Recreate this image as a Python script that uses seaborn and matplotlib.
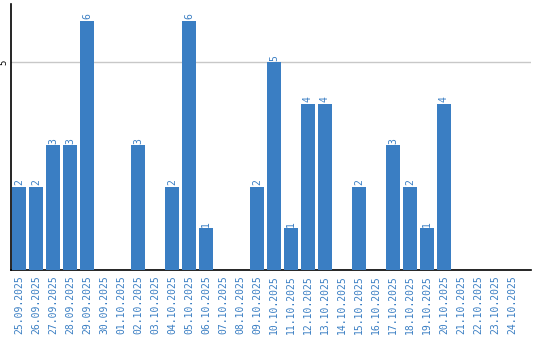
import matplotlib
matplotlib.use("Agg")
import matplotlib.pyplot as plt
import seaborn as sns
import pandas as pd

dates = ["25.09.2025", "26.09.2025", "27.09.2025", "28.09.2025", "29.09.2025",
         "30.09.2025", "01.10.2025", "02.10.2025", "03.10.2025", "04.10.2025",
         "05.10.2025", "06.10.2025", "07.10.2025", "08.10.2025", "09.10.2025",
         "10.10.2025", "11.10.2025", "12.10.2025", "13.10.2025", "14.10.2025",
         "15.10.2025", "16.10.2025", "17.10.2025", "18.10.2025", "19.10.2025",
         "20.10.2025", "21.10.2025", "22.10.2025", "23.10.2025", "24.10.2025"]
counts = [2, 2, 3, 3, 6, 0, 0, 3, 0, 2, 6, 1, 0, 0, 2, 5, 1, 4, 4, 0,
          2, 0, 3, 2, 1, 4, 0, 0, 0, 0]
yticks = [5]

sns.set_style("white")
plt.rcParams['font.family'] = ['DejaVu Sans Mono', 'DejaVu Sans']

BAR = "#3a7ec3"
df = pd.DataFrame({"date": dates, "count": counts})

fig = plt.figure(figsize=(5.4, 3.4), dpi=100)
ax = fig.add_axes([11/540, 1-270/340, 520/540, 266/340])
sns.barplot(data=df, x="date", y="count", color=BAR, width=0.82,
            saturation=1, linewidth=0, ax=ax, zorder=3)
ax.set_xlim(-0.47, -0.47 + 520/17)
ax.set_ylim(0, 6.4)
ax.set_yticks(yticks)
ax.set_yticklabels([str(v) for v in yticks], rotation=90, va="center",
                   ha="right", fontsize=6.5, color="black")
ax.yaxis.grid(True, color="#c8c8c8", linewidth=1, zorder=0)
ax.tick_params(axis="y", length=0, pad=2)
ax.tick_params(axis="x", length=0, pad=4, labelsize=7, labelcolor=BAR,
               rotation=90)
for lbl in ax.get_xticklabels():
    lbl.set_va("top")
ax.set_xlabel("")
ax.set_ylabel("")
for s in ["top", "right"]:
    ax.spines[s].set_visible(False)
for s in ["left", "bottom"]:
    ax.spines[s].set_color("black")
    ax.spines[s].set_linewidth(1.2)

for i, v in enumerate(counts):
    if v > 0:
        ax.text(i, v + 0.04, str(v), rotation=90, ha="center", va="bottom",
                fontsize=7, color=BAR, zorder=4)

fig.savefig("out.png", dpi=100)
